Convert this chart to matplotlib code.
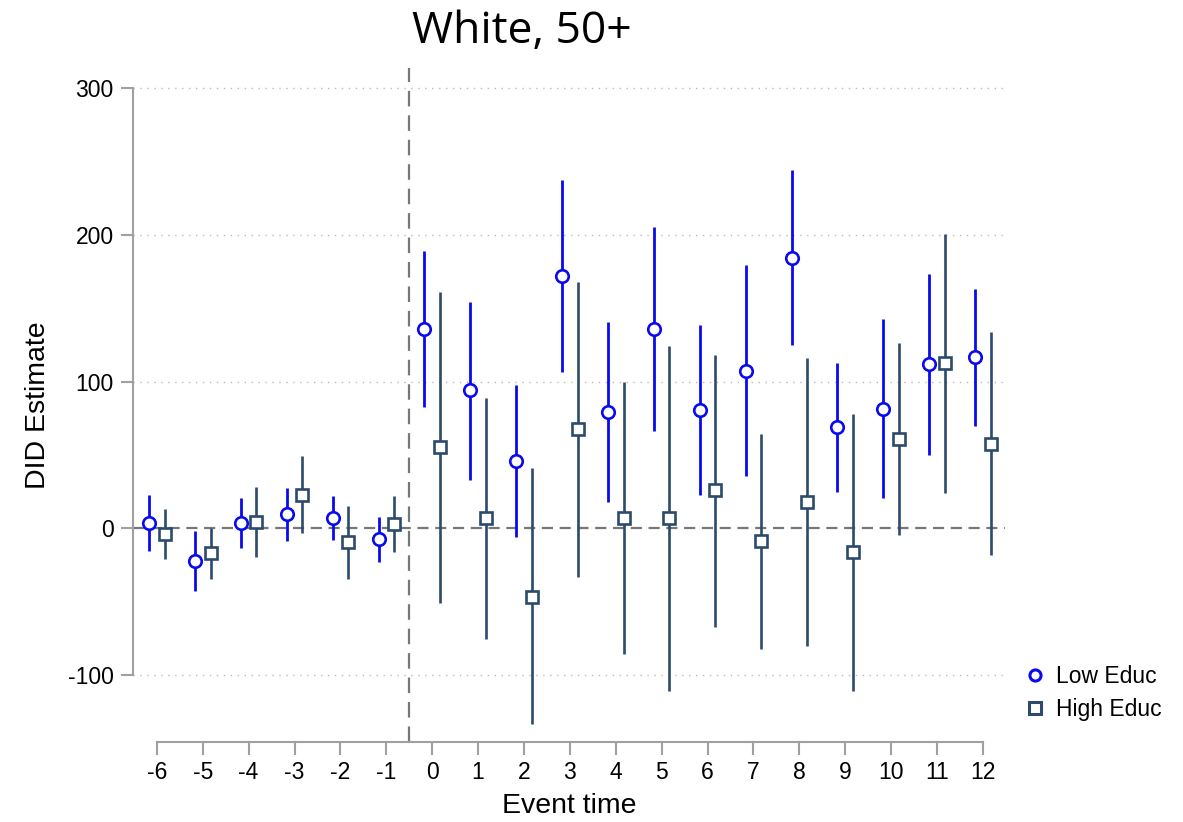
import numpy as np
import matplotlib
matplotlib.use("Agg")
import matplotlib.pyplot as plt
from matplotlib.lines import Line2D

# -------------------------
# Data
# -------------------------
event_time = [-6, -5, -4, -3, -2, -1, 0, 1, 2, 3, 4, 5, 6, 7, 8, 9, 10, 11, 12]

low_est = [3.4, -22.5, 3.4, 9.5, 6.8, -7.7, 135.9, 93.9, 45.9, 171.8, 79.1, 135.9,
           80.9, 107.5, 184.3, 69.1, 81.6, 111.8, 116.6]
low_hi = [22.7, -2.3, 20.5, 27.5, 21.6, 7.5, 189.3, 154.5, 97.7, 237.5, 140.9, 205.2,
          138.4, 179.3, 244.3, 113.0, 142.7, 173.6, 163.2]
low_lo = [-15.9, -43.0, -13.4, -8.6, -8.4, -23.0, 82.3, 33.0, -6.1, 106.4, 17.5, 66.1,
          22.7, 35.5, 124.8, 24.8, 20.7, 50.0, 70.0]

high_est = [-3.9, -16.8, 3.9, 22.7, -9.8, 3.0, 55.5, 6.6, -46.8, 67.3, 6.8, 6.8,
            25.7, -9.1, 17.7, -16.4, 60.7, 112.5, 57.7]
high_hi = [12.7, 0.0, 28.0, 48.9, 15.0, 21.8, 161.1, 88.6, 40.9, 167.7, 100.0, 124.5,
           118.4, 64.1, 115.9, 78.0, 126.4, 200.7, 133.6]
high_lo = [-21.1, -34.8, -20.0, -3.6, -34.8, -16.1, -51.0, -75.5, -133.9, -33.6, -86.1, -111.1,
           -67.7, -82.7, -80.2, -111.1, -5.0, 23.9, -18.2]

y_ticks = [-100, 0, 100, 200, 300]

# -------------------------
# Styling
# -------------------------
plt.rcParams['font.family'] = ['Liberation Sans', 'DejaVu Sans']
low_color = "#0a0aee"
high_color = "#2c4a6b"
offset = 0.17

fig = plt.figure(figsize=(11.83, 8.22), dpi=100)
ax = fig.add_axes([0.1124, 0.0973, 0.7371, 0.82])

x = np.array(event_time, dtype=float)

# reference lines
ax.axhline(0, color="#777777", lw=1.6, ls=(0, (5, 3)), zorder=1)
ax.axvline(-0.5, color="#777777", lw=1.6, ls=(0, (7, 4)), zorder=1)
for yv in [-100, 100, 200, 300]:
    ax.axhline(yv, color="#bbbbbb", lw=1.0, ls=(0, (1, 4)), zorder=0)

# confidence intervals
ax.vlines(x - offset, low_lo, low_hi, color=low_color, lw=2.0, zorder=2)
ax.vlines(x + offset, high_lo, high_hi, color=high_color, lw=1.9, zorder=2)

# point estimates
ax.plot(x - offset, low_est, ls="none", marker="o", ms=9, mfc="white",
        mec=low_color, mew=1.9, zorder=3)
ax.plot(x + offset, high_est, ls="none", marker="s", ms=9, mfc="white",
        mec=high_color, mew=1.9, zorder=3)

# axes
ax.set_xlim(-6.52, 12.48)
ax.set_ylim(-146, 314)
ax.set_xticks(event_time)
ax.set_xticklabels([str(t) for t in event_time])
ax.set_yticks(y_ticks)
ax.set_yticklabels([str(t) for t in y_ticks])

for s in ["top", "right"]:
    ax.spines[s].set_visible(False)
ax.spines["left"].set_bounds(-100, 300)
ax.spines["bottom"].set_bounds(-6, 12)
for s in ["left", "bottom"]:
    ax.spines[s].set_color("#a0a0a0")
    ax.spines[s].set_linewidth(1.5)
ax.tick_params(axis="both", colors="#a0a0a0", width=1.5, length=9,
               labelsize=16.5, labelcolor="black", pad=5)

ax.set_xlabel("Event time", fontsize=20.5, labelpad=6)
ax.set_ylabel("DID Estimate", fontsize=20.5, labelpad=12)

fig.text(522 / 1183, 1 - 32 / 822, "White, 50+", fontsize=32,
         family=["Open Sans", "DejaVu Sans"], ha="center", va="center")

handles = [
    Line2D([], [], ls="none", marker="o", ms=8, mfc="white", mec=low_color, mew=2.2,
           label="Low Educ"),
    Line2D([], [], ls="none", marker="s", ms=8, mfc="white", mec=high_color, mew=2.2,
           label="High Educ"),
]
fig.legend(handles=handles, loc="center left", bbox_to_anchor=(1001 / 1183, 1 - 693 / 822),
           frameon=False, fontsize=16.5, handletextpad=0.3, labelspacing=0.45,
           handlelength=1.2)

fig.savefig("out.png", dpi=100)
